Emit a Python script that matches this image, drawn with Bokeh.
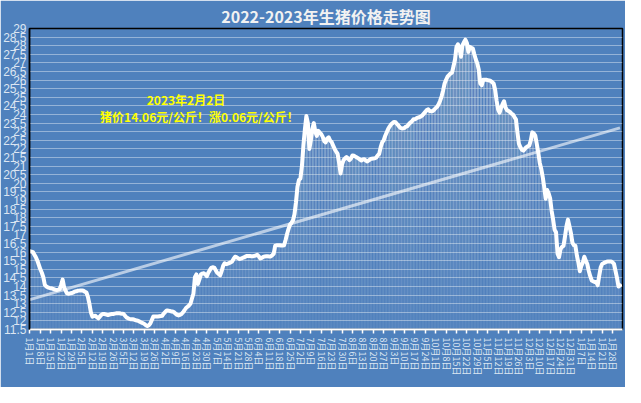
import numpy as np
from bokeh.plotting import figure
from bokeh.models import FixedTicker, Label, Range1d
from bokeh.embed import file_html
from bokeh.resources import INLINE

# ---------------- data ----------------
start_date = "2022-01-01"   # day 0; one value per day up to 2023-02-02
prices = [
    16.05, 16.03, 16.00, 15.85, 15.70, 15.50, 15.25,
    15.00, 14.80, 14.55, 14.10, 14.00, 13.95, 13.92,
    13.90, 13.88, 13.85, 13.82, 13.80, 13.82, 13.85,
    14.10, 14.40, 13.95, 13.75, 13.60, 13.58, 13.60,
    13.62, 13.65, 13.70, 13.72, 13.75, 13.76, 13.77,
    13.77, 13.75, 13.70, 13.65, 13.40, 13.00, 12.50,
    12.25, 12.28, 12.30, 12.22, 12.15, 12.25, 12.35,
    12.40, 12.40, 12.38, 12.35, 12.35, 12.38, 12.40,
    12.40, 12.42, 12.44, 12.45, 12.45, 12.43, 12.42,
    12.40, 12.30, 12.20, 12.15, 12.12, 12.10, 12.10,
    12.08, 12.05, 12.02, 12.00, 11.95, 11.90, 11.87,
    11.82, 11.75, 11.70, 11.75, 11.85, 12.05, 12.25,
    12.25, 12.25, 12.25, 12.27, 12.28, 12.30, 12.42,
    12.52, 12.60, 12.60, 12.58, 12.55, 12.55, 12.50,
    12.42, 12.35, 12.32, 12.35, 12.40, 12.50, 12.62,
    12.75, 12.82, 12.90, 13.00, 13.30, 13.58, 14.54,
    14.70, 14.15, 14.40, 14.70, 14.75, 14.77, 14.70,
    14.60, 14.80, 14.95, 15.08, 15.12, 15.10, 14.95,
    14.80, 14.73, 14.65, 14.90, 15.20, 15.35, 15.30,
    15.32, 15.36, 15.40, 15.45, 15.60, 15.73, 15.70,
    15.65, 15.60, 15.62, 15.66, 15.69, 15.74, 15.78,
    15.78, 15.77, 15.76, 15.76, 15.78, 15.80, 15.84,
    15.75, 15.63, 15.66, 15.72, 15.75, 15.76, 15.76,
    15.75, 15.75, 15.82, 15.90, 16.36, 16.40, 16.40,
    16.40, 16.38, 16.38, 16.40, 16.70, 17.05, 17.35,
    17.60, 17.70, 17.85, 18.20, 18.90, 19.80, 20.20,
    20.28, 21.00, 22.20, 23.15, 23.91, 23.50, 22.00,
    22.50, 23.15, 23.50, 23.00, 22.76, 23.05, 22.95,
    22.86, 22.70, 22.45, 22.38, 22.60, 22.67, 22.48,
    22.40, 22.20, 22.00, 21.85, 21.71, 21.20, 20.57,
    21.10, 21.35, 21.45, 21.52, 21.45, 21.35, 21.45,
    21.62, 21.60, 21.55, 21.50, 21.45, 21.38, 21.33,
    21.38, 21.40, 21.32, 21.27, 21.33, 21.40, 21.43,
    21.44, 21.45, 21.50, 21.62, 21.71, 22.10, 22.38,
    22.50, 22.75, 22.95, 23.15, 23.30, 23.43, 23.50,
    23.57, 23.55, 23.45, 23.35, 23.24, 23.20, 23.19,
    23.22, 23.30, 23.33, 23.45, 23.53, 23.60, 23.72,
    23.72, 23.78, 23.82, 23.85, 23.88, 23.95, 24.05,
    24.15, 24.26, 24.30, 24.20, 24.18, 24.20, 24.28,
    24.38, 24.45, 24.60, 24.80, 25.06, 25.40, 25.80,
    26.02, 26.20, 26.30, 26.38, 26.44, 26.80, 27.20,
    27.93, 28.08, 27.84, 27.36, 28.02, 28.20, 28.35,
    28.15, 27.64, 27.93, 27.88, 27.84, 27.50, 27.20,
    26.97, 26.60, 25.80, 25.70, 26.02, 26.02, 26.02,
    26.00, 25.98, 25.95, 25.88, 25.80, 25.44, 24.80,
    24.30, 24.10, 24.39, 24.60, 24.77, 24.40, 24.25,
    24.20, 24.15, 24.05, 24.00, 23.85, 23.72, 22.96,
    22.30, 22.10, 21.95, 21.90, 22.00, 22.10, 22.15,
    22.20, 22.50, 22.96, 22.90, 22.77, 22.30, 21.80,
    21.20, 20.85, 20.38, 19.80, 19.10, 19.61, 19.42,
    19.13, 18.40, 17.90, 17.30, 17.15, 15.90, 15.70,
    16.17, 16.30, 16.36, 16.90, 17.50, 17.89, 17.50,
    17.10, 16.55, 16.40, 16.36, 15.80, 15.40, 14.89,
    15.20, 15.40, 15.73, 15.50, 15.31, 14.90, 14.60,
    14.35, 14.30, 14.26, 14.26, 14.07, 14.60, 15.10,
    15.31, 15.36, 15.40, 15.44, 15.46, 15.46, 15.46,
    15.40, 15.31, 14.90, 14.50, 14.00, 14.06,
]
# linear trend line (value at first and last day)
trend_days = [0, 397]
trend_values = [13.24, 23.22]

tick_days = list(range(0, 393, 7))
tick_labels = [
    "1月1日", "1月8日", "1月15日", "1月22日", "1月29日",
    "2月5日", "2月12日", "2月19日", "2月26日",
    "3月5日", "3月12日", "3月19日", "3月26日",
    "4月2日", "4月9日", "4月16日", "4月23日", "4月30日",
    "5月7日", "5月14日", "5月21日", "5月28日",
    "6月4日", "6月11日", "6月18日", "6月25日",
    "7月2日", "7月9日", "7月16日", "7月23日", "7月30日",
    "8月6日", "8月13日", "8月20日", "8月27日",
    "9月3日", "9月10日", "9月17日", "9月24日",
    "10月1日", "10月8日", "10月15日", "10月22日", "10月29日",
    "11月5日", "11月12日", "11月19日", "11月26日",
    "12月3日", "12月10日", "12月17日", "12月24日", "12月31日",
    "1月7日", "1月14日", "1月21日", "1月28日",
]
y_ticks = [11.5, 12, 12.5, 13, 13.5, 14, 14.5, 15, 15.5, 16, 16.5, 17, 17.5,
           18, 18.5, 19, 19.5, 20, 20.5, 21, 21.5, 22, 22.5, 23, 23.5, 24,
           24.5, 25, 25.5, 26, 26.5, 27, 27.5, 28, 28.5, 29]
y_tick_labels = ["%g" % t for t in y_ticks]
title_text = "2022-2023年生猪价格走势图"
note_line1 = "2023年2月2日"
note_line2 = "猪价14.06元/公斤！涨0.06元/公斤！"

# ---------------- styling ----------------
BG = "#4F81BD"
LABEL_C = "#DCE6F2"
CJK = "Noto Sans CJK SC"

days = np.arange(len(prices))
vals = np.array(prices)
Y0, Y1 = 11.5, 29

p = figure(width=625, height=387, output_backend="svg", toolbar_location=None,
           x_range=Range1d(-0.3, 398.7), y_range=Range1d(Y0, Y1),
           min_border_left=26, min_border_right=3, min_border_top=4,
           min_border_bottom=58,
           background_fill_color=BG, border_fill_color=BG)

p.title.text = title_text
p.title.align = "center"
p.title.text_font = CJK
p.title.text_font_size = "16px"
p.title.text_font_style = "bold"
p.title.text_color = "#F2F2F2"
p.title.standoff = 2
p.title.offset = 0

p.outline_line_color = "black"
p.outline_line_width = 1.5

p.xgrid.visible = False
p.ygrid.ticker = FixedTicker(ticks=y_ticks)
p.ygrid.grid_line_color = "white"
p.ygrid.grid_line_alpha = 0.4
p.ygrid.grid_line_width = 1

# y axis
p.yaxis.ticker = FixedTicker(ticks=y_ticks)
p.yaxis.major_label_overrides = {t: s for t, s in zip(y_ticks, y_tick_labels)}
p.yaxis.axis_line_color = "black"
p.yaxis.axis_line_width = 1.5
p.yaxis.major_tick_line_color = None
p.yaxis.minor_tick_line_color = None
p.yaxis.major_tick_out = 0
p.yaxis.major_tick_in = 0
p.yaxis.major_label_standoff = 3
p.yaxis.major_label_text_color = LABEL_C
p.yaxis.major_label_text_font = "Liberation Sans"
p.yaxis.major_label_text_font_size = "12px"

# x axis
p.xaxis.ticker = FixedTicker(ticks=tick_days)
p.xaxis.major_label_overrides = {d: s for d, s in zip(tick_days, tick_labels)}
p.xaxis.major_label_orientation = "vertical"
p.xaxis.axis_line_color = "white"
p.xaxis.axis_line_width = 2
p.xaxis.major_tick_line_color = "white"
p.xaxis.major_tick_line_width = 1.5
p.xaxis.major_tick_out = 4
p.xaxis.major_tick_in = 0
p.xaxis.minor_tick_line_color = None
p.xaxis.major_label_standoff = 4
p.xaxis.major_label_text_color = LABEL_C
p.xaxis.major_label_text_font = CJK
p.xaxis.major_label_text_font_size = "9px"

# area under the curve: thin translucent columns, brighter higher up
p.vbar(x=days, bottom=Y0, top=vals, width=0.55, fill_color="white",
       fill_alpha=0.06, line_color=None)
for k in range(17):
    base = Y0 + 1.0 * k
    m = vals > base
    p.vbar(x=days[m], bottom=base, top=vals[m], width=0.55,
           fill_color="white", fill_alpha=0.04, line_color=None)

# linear trend line
p.line(trend_days, trend_values, line_color="white", line_alpha=0.6,
       line_width=3)

# price line
p.line(days, vals, line_color="white", line_width=4, line_join="round",
       line_cap="round")

# note
p.add_layout(Label(x=105, y=24.87, text=note_line1, text_align="center",
                   text_baseline="middle", text_font=CJK,
                   text_font_size="12px", text_font_style="bold",
                   text_color="#FFFF00"))
p.add_layout(Label(x=114, y=23.9, text=note_line2, text_align="center",
                   text_baseline="middle", text_font=CJK,
                   text_font_size="12px", text_font_style="bold",
                   text_color="#FFFF00"))

html = file_html(p, INLINE)
html = html.replace("<body>", '<body style="background-color:#4F81BD">', 1)
open("out.html", "w").write(html)
